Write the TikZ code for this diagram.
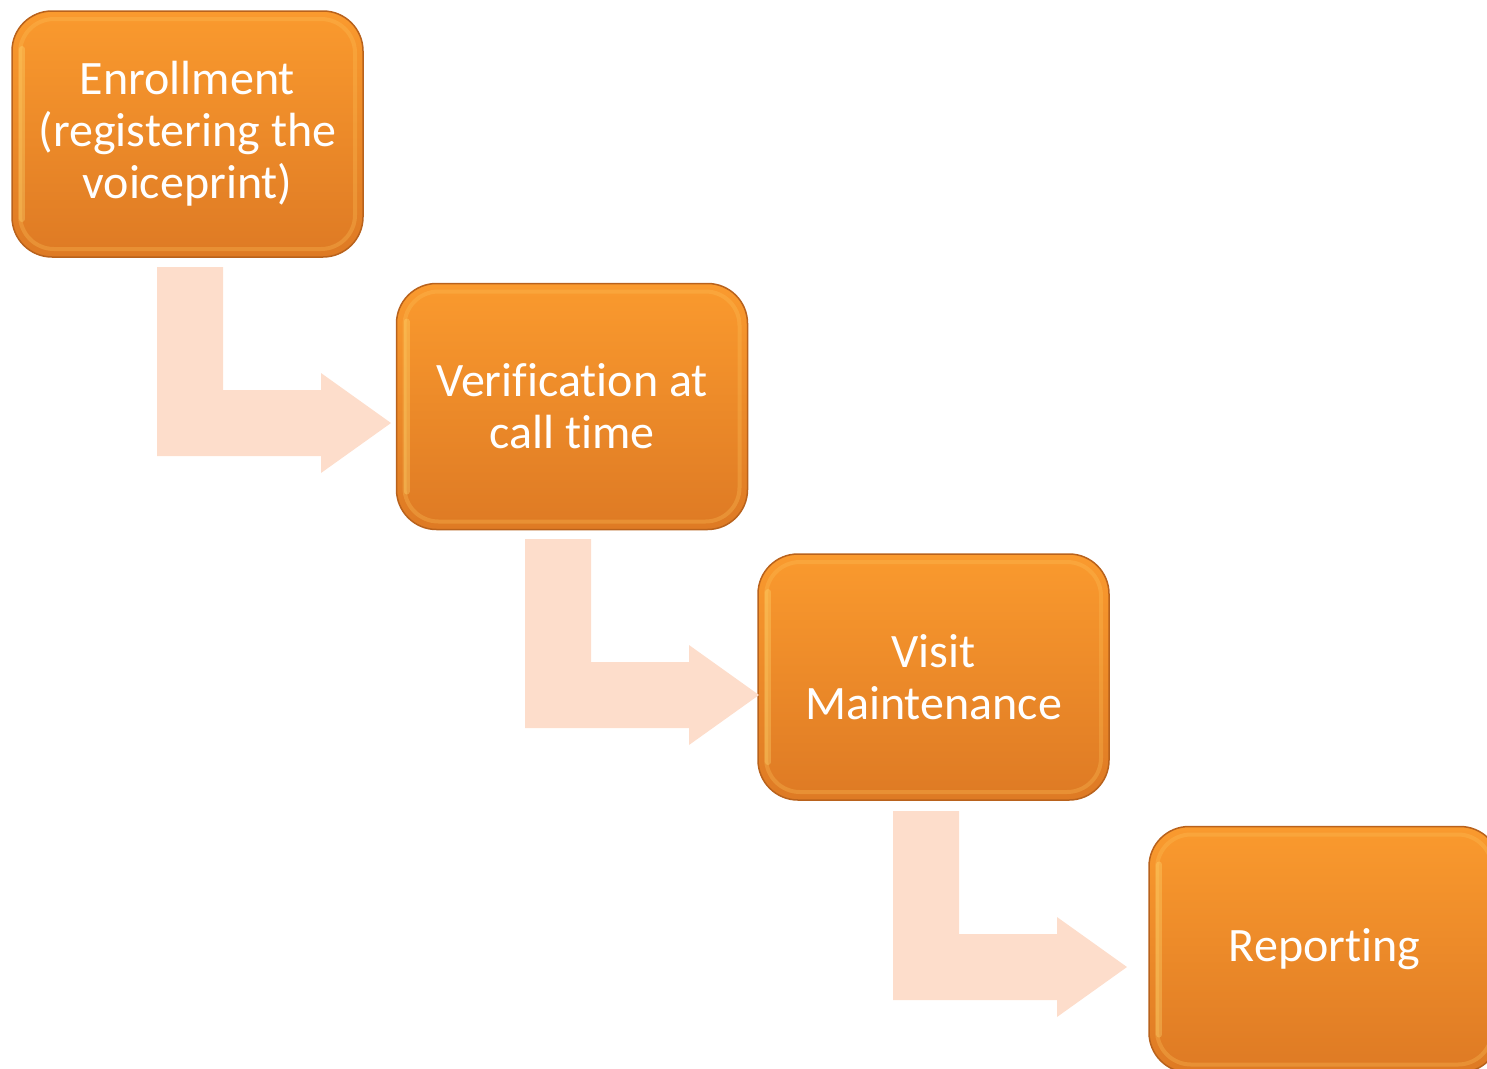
\documentclass[tikz,border=0pt]{standalone}
\usepackage{fontspec}
\setmainfont{Carlito}[Ligatures=NoCommon]
\begin{document}
\definecolor{boxtop}{HTML}{FA9A2E}
\definecolor{boxbot}{HTML}{DE7A24}
\definecolor{boxedge}{HTML}{B9621C}
\definecolor{bevel}{HTML}{FDC35A}
\definecolor{glow}{HTML}{FFE27A}
\definecolor{arrowfill}{HTML}{FDDDCB}
\begin{tikzpicture}[x=1pt,y=-1pt,
  stepbox/.style={rounded corners=40pt, minimum width=351pt, minimum height=246pt,
    inner sep=0pt, align=center, text=white,
    font=\fontsize{48}{52}\selectfont,
    top color=boxtop, bottom color=boxbot, draw=boxedge, line width=1.5pt,
    path picture={
      \draw[bevel, line width=4pt, opacity=0.3, rounded corners=34pt]
        ([xshift=8pt,yshift=-8pt]path picture bounding box.north west)
        rectangle ([xshift=-8pt,yshift=8pt]path picture bounding box.south east);
      \draw[glow, line width=6pt, opacity=0.3, line cap=round]
        ([xshift=10pt,yshift=-38pt]path picture bounding box.north west)
        -- ([xshift=10pt,yshift=38pt]path picture bounding box.south west);
    }},
  bentarrow/.pic={
    \fill[arrowfill] (0,0) -- (66,0) -- (66,123) -- (164,123) -- (164,106)
      -- (234,156) -- (164,206) -- (164,189) -- (0,189) -- cycle;
  }]
\useasboundingbox (0,0) rectangle (1487,1068);
\clip (0,0) rectangle (1487,1068);

% the four process stages
\node[stepbox] (enroll) at (187.5,134) {Enrollment\\(registering the\\voiceprint)};
\node[stepbox] (verify) at (572,406.5) {Verification at\\call time};
\node[stepbox] (visit)  at (933.5,677) {Visit\\Maintenance};
\node[stepbox] (report) at (1324.5,949.5) {Reporting};

% bent arrows between the stages
\pic at (157,267) {bentarrow};
\pic at (525,539) {bentarrow};
\pic at (893,811) {bentarrow};
\end{tikzpicture}
\end{document}
